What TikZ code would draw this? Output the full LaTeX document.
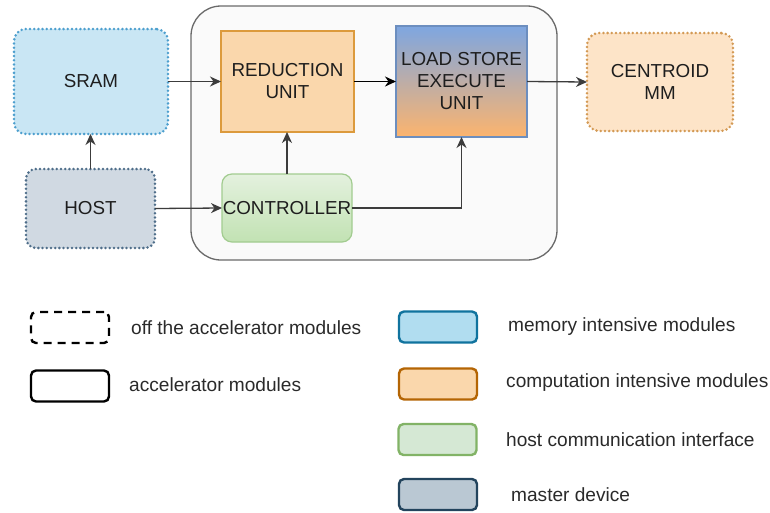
\documentclass[tikz,border=0pt]{standalone}
\usepackage{fontspec}
\setmainfont{Liberation Sans}
\usetikzlibrary{arrows.meta,calc}

\definecolor{txt}{HTML}{1E1E1E}
\definecolor{legtxt}{HTML}{2A2A2A}
\definecolor{wire}{HTML}{3C3C3C}
\definecolor{sramfill}{HTML}{C9E6F4}
\definecolor{sramline}{HTML}{4D9FCE}
\definecolor{hostfill}{HTML}{D0D9E2}
\definecolor{hostline}{HTML}{4F6E8A}
\definecolor{centfill}{HTML}{FDE4C8}
\definecolor{centline}{HTML}{D39A55}
\definecolor{redfill}{HTML}{FAD7AC}
\definecolor{redline}{HTML}{DC9A3C}
\definecolor{lsetop}{HTML}{7EA6E0}
\definecolor{lsebot}{HTML}{FCB46E}
\definecolor{lseline}{HTML}{6C8EBF}
\definecolor{ctrltop}{HTML}{E4F1DE}
\definecolor{ctrlbot}{HTML}{C2E2B3}
\definecolor{ctrlline}{HTML}{A2CC90}
\definecolor{accfill}{HTML}{FAFAFA}
\definecolor{accline}{HTML}{6A6A6A}
\definecolor{memfill}{HTML}{B1DDF0}
\definecolor{memline}{HTML}{10739E}
\definecolor{compfill}{HTML}{FAD7AC}
\definecolor{compline}{HTML}{B46504}
\definecolor{hcifill}{HTML}{D5E8D4}
\definecolor{hciline}{HTML}{82B366}
\definecolor{mstfill}{HTML}{BAC8D3}
\definecolor{mstline}{HTML}{23445D}

\tikzset{
  blk/.style={inner sep=0pt, outer sep=0pt, align=center, text=txt,
    font=\fontsize{18.8}{22}\selectfont},
  offchip/.style={blk, rounded corners=12pt, line width=2.8pt,
    dash pattern=on 0pt off 4.2pt, line cap=round},
  conn/.style={draw=wire, line width=1.3pt,
    -{Stealth[length=11pt,width=10pt,inset=3.5pt]}},
  legbox/.style={rounded corners=5pt, line width=2.4pt,
    minimum width=78pt, minimum height=31pt, inner sep=0pt},
  legtext/.style={anchor=west, inner sep=0pt, text=legtxt,
    font=\fontsize{19.1}{22}\selectfont}
}

\begin{document}
\begin{tikzpicture}[x=1pt,y=-1pt]
  \useasboundingbox[fill=white] (0,0) rectangle (770,512);

  % accelerator enclosure
  \draw[accline, fill=accfill, line width=1.3pt, rounded corners=30pt]
    (191,6) rectangle (557,260);

  % off-chip modules
  \node[offchip, draw=sramline, fill=sramfill, minimum width=154pt, minimum height=105pt]
    (sram) at (91,81.5) {SRAM};
  \node[offchip, draw=hostline, fill=hostfill, minimum width=129pt, minimum height=79pt,
    rounded corners=10pt] (host) at (90.5,208.5) {HOST};
  \node[offchip, draw=centline, fill=centfill, minimum width=146pt, minimum height=98pt]
    (cent) at (660,82) {CENTROID\\MM};

  % accelerator modules
  \node[blk, draw=redline, fill=redfill, line width=1.3pt,
    minimum width=133pt, minimum height=101pt] (red) at (287.5,81.5) {REDUCTION\\UNIT};
  \node[blk, draw=lseline, top color=lsetop, bottom color=lsebot, line width=1.2pt,
    minimum width=131pt, minimum height=111pt] (lse) at (461.5,81.5)
    {LOAD STORE\\EXECUTE\\UNIT};
  \node[blk, draw=ctrlline, top color=ctrltop, bottom color=ctrlbot, line width=1.2pt,
    rounded corners=10pt, minimum width=130pt, minimum height=68pt] (ctrl) at (287,208)
    {CONTROLLER};

  % data and control paths
  \draw[conn] (sram.east) -- (red.west);
  \draw[conn, draw=black, line width=1.8pt] (red.east) -- (lse.west);
  \draw[conn] (lse.east) -- (cent.west);
  \draw[conn] (host.north) -- (host.north |- sram.south);
  \draw[conn] (host.east) -- (ctrl.west);
  \draw[conn] (ctrl.north) -- (ctrl.north |- red.south);
  \draw[conn] (ctrl.east) -| (lse.south);

  % legend
  \node[legbox, draw=black, dash pattern=on 8pt off 6pt] (kdash) at (70,327.5) {};
  \node[legtext] (tdash) at (131,328) {off the accelerator modules};
  \node[legbox, draw=black] (ksolid) at (70,386) {};
  \node[legtext] (tsolid) at (129,385) {accelerator modules};

  \node[legbox, draw=memline, fill=memfill] (kmem) at (438,327) {};
  \node[legtext] (tmem) at (508,326.5) {memory intensive modules};
  \node[legbox, draw=compline, fill=compfill] (kcomp) at (438,384) {};
  \node[legtext] (tcomp) at (506,382.5) {computation intensive modules};
  \node[legbox, draw=hciline, fill=hcifill] (khci) at (437.5,439.5) {};
  \node[legtext] (thci) at (506,439.5) {host communication interface};
  \node[legbox, draw=mstline, fill=mstfill] (kmst) at (438,494.5) {};
  \node[legtext] (tmst) at (511,494.5) {master device};
\end{tikzpicture}
\end{document}
